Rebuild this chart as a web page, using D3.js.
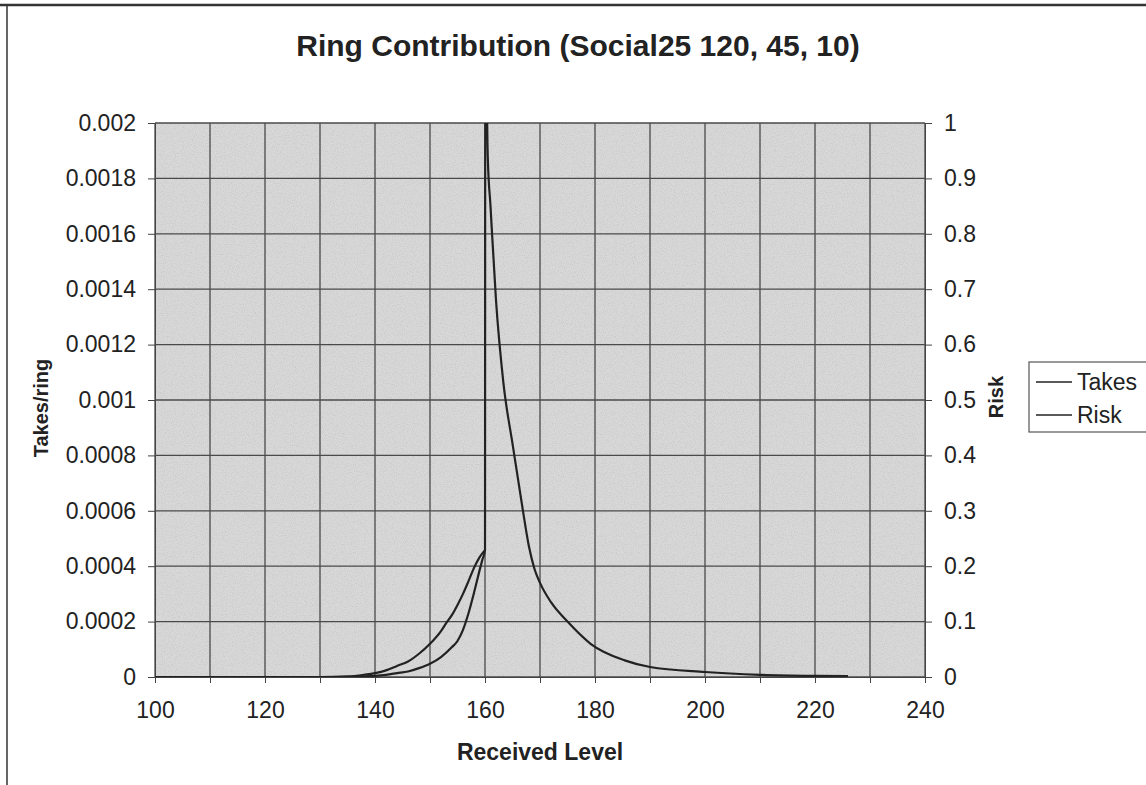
<!DOCTYPE html>
<html>
<head>
<meta charset="utf-8">
<script src="https://cdn.jsdelivr.net/npm/d3@7"></script>
<style>
  body { margin: 0; background: #fff; }
  text { font-family: "Liberation Sans", Arial, sans-serif; fill: #222; }
</style>
</head>
<body>
<div id="chart"></div>
<script>
let width = 1146;
let height = 785;
let margin = ({top: 123, right: 221, bottom: 108, left: 155});

// received level (x) and the two series
let riskLevel = [100, 130, 135, 138, 140, 142, 144, 146, 148, 150, 152, 153, 154, 155, 156, 157, 158, 159, 160];
let riskValue = [0, 0, 0.001, 0.004, 0.007, 0.012, 0.02, 0.028, 0.042, 0.06, 0.083, 0.098, 0.112, 0.13, 0.15, 0.173, 0.197, 0.216, 0.229];

let takesLevel = [100, 135, 140, 142, 144, 146, 148, 150, 152, 154, 155, 156, 157, 158, 159, 159.5, 160,
                  160.05, 160.5, 161, 162, 163.3, 165.1, 166.9, 168, 169, 170, 172, 175, 179.2, 185.4, 190, 200, 210, 220, 226];
let takesValue = [0, 0, 0.000004, 0.000008, 0.000014, 0.00002, 0.000032, 0.000048, 0.000072, 0.000108, 0.00013, 0.00017, 0.00023, 0.000304, 0.000384, 0.000422, 0.000458,
                  0.0024, 0.00188, 0.0017, 0.00136, 0.00107, 0.00083, 0.0006, 0.00047, 0.00039, 0.00034, 0.00027, 0.0002, 0.00012, 0.00006, 0.000036, 0.000018, 0.000008, 0.000004, 0.000003];

let xTicks = [100, 110, 120, 130, 140, 150, 160, 170, 180, 190, 200, 210, 220, 230, 240];
let xTickLabels = ["100", "", "120", "", "140", "", "160", "", "180", "", "200", "", "220", "", "240"];
let leftTicks = [0, 0.0002, 0.0004, 0.0006, 0.0008, 0.001, 0.0012, 0.0014, 0.0016, 0.0018, 0.002];
let leftTickLabels = ["0", "0.0002", "0.0004", "0.0006", "0.0008", "0.001", "0.0012", "0.0014", "0.0016", "0.0018", "0.002"];
let rightTicks = [0, 0.1, 0.2, 0.3, 0.4, 0.5, 0.6, 0.7, 0.8, 0.9, 1];
let rightTickLabels = ["0", "0.1", "0.2", "0.3", "0.4", "0.5", "0.6", "0.7", "0.8", "0.9", "1"];
let seriesNames = ["Takes", "Risk"];

let takes = takesLevel.map((l, i) => ({level: l, value: takesValue[i]}));
let risk = riskLevel.map((l, i) => ({level: l, value: riskValue[i]}));

let x = d3.scaleLinear().domain([100, 240]).range([margin.left, width - margin.right]);
let yL = d3.scaleLinear().domain([0, 0.002]).range([height - margin.bottom, margin.top]);
let yR = d3.scaleLinear().domain([0, 1]).range([height - margin.bottom, margin.top]);

let svg = d3.select("#chart").append("svg")
    .attr("width", width)
    .attr("height", height);

// scanned paper look
let defs = svg.append("defs");
let f = defs.append("filter").attr("id", "grain").attr("x", 0).attr("y", 0).attr("width", 1).attr("height", 1);
f.append("feTurbulence").attr("type", "fractalNoise").attr("baseFrequency", 0.9).attr("numOctaves", 2).attr("seed", 3);
f.append("feColorMatrix").attr("type", "matrix")
    .attr("values", "0 0 0 0 0.55  0 0 0 0 0.55  0 0 0 0 0.55  0 0 0 -2.4 1.35");
defs.append("clipPath").attr("id", "plotClip")
  .append("rect")
    .attr("x", margin.left).attr("y", margin.top)
    .attr("width", width - margin.left - margin.right)
    .attr("height", height - margin.top - margin.bottom);

// page frame
svg.append("line").attr("x1", 0).attr("x2", width).attr("y1", 5).attr("y2", 5)
    .attr("stroke", "#333").attr("stroke-width", 2.5);
svg.append("line").attr("x1", 7).attr("x2", 7).attr("y1", 5).attr("y2", height)
    .attr("stroke", "#333").attr("stroke-width", 1.5);

svg.append("rect")
    .attr("x", margin.left).attr("y", margin.top)
    .attr("width", width - margin.left - margin.right)
    .attr("height", height - margin.top - margin.bottom)
    .attr("fill", "#d8d8d8");
svg.append("rect")
    .attr("x", margin.left).attr("y", margin.top)
    .attr("width", width - margin.left - margin.right)
    .attr("height", height - margin.top - margin.bottom)
    .attr("filter", "url(#grain)")
    .attr("opacity", 0.75);

// grid
svg.append("g").selectAll("line")
    .data(xTicks)
    .join("line")
    .attr("x1", d => x(d)).attr("x2", d => x(d))
    .attr("y1", margin.top).attr("y2", height - margin.bottom)
    .attr("stroke", "#4a4a4a").attr("stroke-width", 1.3);
svg.append("g").selectAll("line")
    .data(leftTicks)
    .join("line")
    .attr("x1", margin.left).attr("x2", width - margin.right)
    .attr("y1", d => yL(d)).attr("y2", d => yL(d))
    .attr("stroke", "#4a4a4a").attr("stroke-width", 1.3);

// axes
let xAxis = g => g
    .attr("transform", `translate(0,${height - margin.bottom})`)
    .call(d3.axisBottom(x).tickValues(xTicks).tickFormat((d, i) => xTickLabels[i]).tickSize(6).tickPadding(19))
    .call(g => g.selectAll("text").style("font-size", "23px").attr("fill", "#222"))
    .call(g => g.selectAll("line, path").attr("stroke", "#444"));
let yAxisL = g => g
    .attr("transform", `translate(${margin.left},0)`)
    .call(d3.axisLeft(yL).tickValues(leftTicks).tickFormat((d, i) => leftTickLabels[i]).tickSize(7).tickPadding(12))
    .call(g => g.selectAll("text").style("font-size", "23px").attr("fill", "#222"))
    .call(g => g.selectAll("line, path").attr("stroke", "#444"));
let yAxisR = g => g
    .attr("transform", `translate(${width - margin.right},0)`)
    .call(d3.axisRight(yR).tickValues(rightTicks).tickFormat((d, i) => rightTickLabels[i]).tickSize(7).tickPadding(12))
    .call(g => g.selectAll("text").style("font-size", "23px").attr("fill", "#222"))
    .call(g => g.selectAll("line, path").attr("stroke", "#444"));

svg.append("g").call(xAxis);
svg.append("g").call(yAxisL);
svg.append("g").call(yAxisR);

// series
let lineL = d3.line().x(d => x(d.level)).y(d => yL(d.value)).curve(d3.curveMonotoneX);
let lineR = d3.line().x(d => x(d.level)).y(d => yR(d.value)).curve(d3.curveMonotoneX);
let plot = svg.append("g").attr("clip-path", "url(#plotClip)");
plot.append("path").datum(risk)
    .attr("d", lineR).attr("fill", "none").attr("stroke", "#222").attr("stroke-width", 2.2);
plot.append("path").datum(takes)
    .attr("d", lineL)
    .attr("fill", "none").attr("stroke", "#222").attr("stroke-width", 2.2).attr("stroke-linejoin", "round");

// titles
svg.append("text")
    .attr("x", 578).attr("y", 56)
    .attr("text-anchor", "middle")
    .style("font-size", "30px").style("font-weight", "bold")
    .text("Ring Contribution (Social25 120, 45, 10)");
svg.append("text")
    .attr("x", x(170)).attr("y", 760)
    .attr("text-anchor", "middle")
    .style("font-size", "23px").style("font-weight", "bold")
    .text("Received Level");
svg.append("text")
    .attr("transform", `translate(48,408) rotate(-90)`)
    .attr("text-anchor", "middle")
    .style("font-size", "20px").style("font-weight", "bold")
    .text("Takes/ring");
svg.append("text")
    .attr("transform", `translate(1003,397) rotate(-90)`)
    .attr("text-anchor", "middle")
    .style("font-size", "20px").style("font-weight", "bold")
    .text("Risk");

// legend
let legend = svg.append("g").attr("transform", "translate(1029,362)");
legend.append("rect")
    .attr("width", 130).attr("height", 70)
    .attr("fill", "#fff").attr("stroke", "#555").attr("stroke-width", 1.2);
legend.selectAll("line")
    .data(seriesNames)
    .join("line")
    .attr("x1", 7).attr("x2", 43)
    .attr("y1", (d, i) => 20 + i * 33).attr("y2", (d, i) => 20 + i * 33)
    .attr("stroke", "#222").attr("stroke-width", 1.5);
legend.selectAll("text")
    .data(seriesNames)
    .join("text")
    .attr("x", 48)
    .attr("y", (d, i) => 20 + i * 33)
    .attr("dy", "0.35em")
    .style("font-size", "23px")
    .text(d => d);
</script>
</body>
</html>
